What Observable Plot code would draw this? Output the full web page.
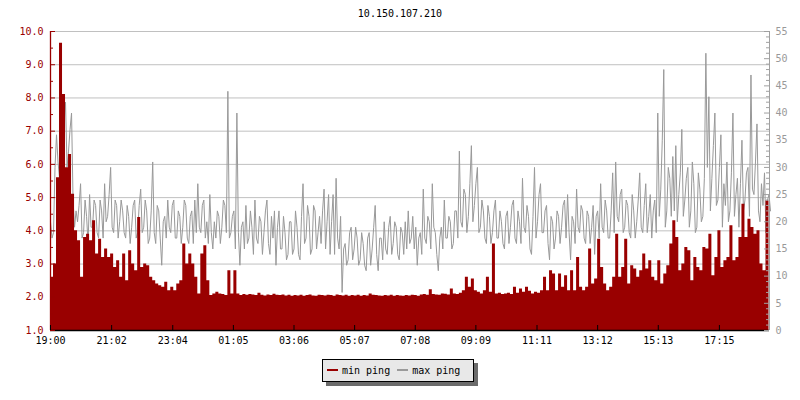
<!DOCTYPE html>
<html><head><meta charset="utf-8">
<script src="https://cdn.jsdelivr.net/npm/d3@7"></script>
<script src="https://cdn.jsdelivr.net/npm/@observablehq/plot@0.6"></script>
<style>
body{margin:0;background:#fff;}
#wrap{position:relative;width:800px;height:400px;font-family:"DejaVu Sans Mono",monospace;font-size:10px;overflow:hidden;}
#title{position:absolute;left:0;top:8px;width:800px;text-align:center;color:#000;line-height:12px;}
#chart{position:absolute;left:0;top:0;}
#legend{position:absolute;left:322px;top:359px;width:152px;height:23px;box-sizing:border-box;background:#e8e8e8;border:1px solid #000;box-shadow:4px 4px 0 #6b6b6b;color:#000;line-height:21px;white-space:nowrap;padding-left:4px;}
.sw{display:inline-block;width:11px;height:2px;vertical-align:middle;margin-right:4px;position:relative;top:-1px;}
</style></head>
<body><div id="wrap">
<div id="chart"></div>
<div id="title">10.150.107.210</div>
<div id="legend"><span class="sw" style="background:#990000"></span>min ping <span class="sw" style="background:#9a9a9a;margin-left:1px"></span>max ping</div>
</div>
<script>
// x-axis tick labels (clock time, starting 19:00)
const xTickLabels = ["19:00","21:02","23:04","01:05","03:06","05:07","07:08","09:09","11:11","13:12","15:13","17:15"];
// sample intervals in minutes
const minStep = 6;
const maxStep = 3;
// min ping (ms, left axis), one value per 6 minutes
const minPing = [
2.6,3.0,5.6,9.65,8.1,5.9,6.3,5.1,4.0,3.7,
2.6,3.8,3.9,3.7,4.3,3.3,3.75,3.2,3.45,3.2,
3.3,2.9,3.1,2.6,3.3,2.5,3.4,3.0,2.8,4.4,
2.9,3.0,2.95,2.6,2.5,2.4,2.35,2.3,2.45,2.2,
2.3,2.2,2.4,2.5,3.6,3.0,3.3,3.0,2.6,2.1,
3.3,3.55,2.5,2.05,2.1,2.15,2.1,2.08,2.05,2.8,
2.1,2.8,2.1,2.05,2.08,2.06,2.08,2.07,2.05,2.12,
2.06,2.04,2.07,2.05,2.09,2.06,2.05,2.07,2.04,2.06,
2.03,2.05,2.04,2.06,2.03,2.05,2.07,2.04,2.03,2.06,
2.05,2.04,2.06,2.05,2.03,2.07,2.05,2.04,2.06,2.03,
2.05,2.04,2.06,2.03,2.05,2.04,2.1,2.06,2.05,2.04,
2.03,2.05,2.04,2.06,2.03,2.05,2.04,2.03,2.05,2.04,
2.06,2.05,2.03,2.07,2.08,2.06,2.23,2.08,2.07,2.06,
2.1,2.09,2.07,2.25,2.1,2.08,2.12,2.2,2.6,2.3,
2.55,2.2,2.15,2.1,2.2,2.6,2.15,3.6,2.1,2.12,
2.08,2.1,2.12,2.08,2.3,2.12,2.25,2.15,2.3,2.18,
2.1,2.15,2.12,2.2,2.6,2.2,2.8,2.7,2.2,2.7,
2.3,2.65,2.2,2.8,2.2,3.2,2.3,2.2,2.3,3.45,
2.4,2.55,3.75,2.9,2.4,2.2,2.3,2.6,3.9,2.6,
2.9,3.75,2.4,2.95,2.85,2.6,2.8,3.3,2.85,3.1,
2.6,2.5,3.1,2.4,2.7,2.95,3.6,4.3,3.8,2.8,
3.0,3.5,3.4,2.5,3.2,2.9,2.8,3.5,3.45,3.9,
2.65,3.2,4.0,2.9,3.1,3.2,4.15,3.1,3.2,3.8,
4.8,3.8,4.35,4.1,3.9,4.0,3.0,2.8,4.9,4.2
];
// max ping (ms, right axis), one value per 3 minutes
const maxPing = [
20,17,18,30,36,31,28,34,25,38,42,30,33,37,40,24,19,22,20,23,
27,17,18,24,21,16,25,19,19,24,23,18,17,24,22,17,27,20,21,25,
30,19,18,24,23,17,20,24,22,18,17,23,21,16,19,23,24,17,18,23,
26,18,19,24,22,16,17,22,31,18,16,23,22,17,12,20,21,17,24,19,
18,23,24,17,17,22,21,16,19,24,23,17,16,21,22,16,24,18,27,19,
18,23,24,17,20,16,25,18,15,20,17,22,21,16,19,24,23,18,44,17,
18,21,22,15,40,18,12,19,20,15,23,16,17,22,19,14,24,17,16,21,
20,14,18,22,24,16,14,21,17,22,12,19,22,15,15,21,18,13,14,20,
20,14,15,22,19,14,13,21,27,16,17,23,21,14,15,23,22,15,18,21,
16,22,26,15,20,25,14,20,25,14,28,17,15,21,7,15,16,12,13,18,
19,13,15,19,17,12,13,18,16,12,11,17,18,12,15,19,23,14,11,17,
17,13,20,15,14,19,21,14,16,20,19,14,13,19,18,14,20,15,22,16,
17,21,15,19,12,17,18,14,26,17,16,21,20,15,27,19,18,14,11,17,
19,15,24,17,17,21,20,15,16,22,22,17,33,20,19,26,25,18,21,27,
34,20,23,27,30,18,19,24,22,17,16,23,21,16,18,22,24,17,17,22,
20,16,15,21,22,16,19,23,24,17,16,22,20,16,28,19,18,23,21,15,
14,21,30,17,20,25,27,18,18,22,23,16,13,21,20,15,17,22,21,16,
19,23,24,17,25,18,13,21,20,16,26,19,18,23,22,17,16,22,21,16,
19,23,14,21,22,17,27,19,18,24,22,17,17,22,29,18,31,21,20,25,
26,18,19,24,23,18,17,25,22,17,20,24,29,19,18,23,27,18,21,25,
17,22,24,18,40,21,26,35,48,19,22,30,28,21,32,22,34,20,25,29,
37,21,24,28,30,19,22,31,27,18,19,29,26,20,21,28,51,30,43,22,
28,34,40,23,24,30,36,19,27,23,31,20,22,29,40,21,25,28,19,27,
35,22,24,29,30,21,47,26,25,31,38,22,20,27,23,29,18,24,25,22
];
// axis tick values
const leftLabels = [1,2,3,4,5,6,7,8,9,10];
const rightLabels = [0,5,10,15,20,25,30,35,40,45,50,55];

const yMin = 1, yMax = 10, rMax = 55;
const toLeft = v => yMin + v * (yMax - yMin) / rMax;
const xMax = 1435;
const mLeft = 50, mRight = 31, mTop = 31, mBottom = 20, W = 800, H = 350;
const dataPerPxX = xMax / (W - mLeft - mRight);
const dataPerPxY = (yMax - yMin) / (H - mTop - mBottom);
const tickMinute = s => { const [h, m] = s.split(":").map(Number); return ((h * 60 + m) - 19 * 60 + 1440) % 1440; };
const xTicks = xTickLabels.map(s => ({t: tickMinute(s), label: s}));
const minSeries = minPing.map((v, i) => ({t: i * minStep, v}));
const maxSeries = maxPing.map((v, i) => ({t: i * maxStep, v}));
const leftMinor = d3.range(1, 10.01, 0.5);
const rightMinor = d3.range(0, 55.01, 1);

const chart = Plot.plot({
  width: W, height: H,
  marginLeft: mLeft, marginRight: mRight, marginTop: mTop, marginBottom: mBottom,
  style: {fontFamily: "'DejaVu Sans Mono', monospace", fontSize: "10px", background: "transparent"},
  x: {domain: [0, xMax], axis: null},
  y: {domain: [yMin, yMax], axis: null},
  marks: [
    Plot.ruleY(d3.range(2, 11), {stroke: "#c0c0c0", strokeWidth: 1}),
    Plot.lineY(maxSeries, {x: "t", y: d => toLeft(d.v), curve: "linear", stroke: "#999999", strokeWidth: 1}),
    Plot.areaY(minSeries, {x: "t", y1: yMin, y2: "v", curve: "step-after", fill: "#990000"}),
    // axis lines
    Plot.ruleX([0], {stroke: "#990000", strokeWidth: 1.3}),
    Plot.ruleX([xMax], {stroke: "#a0a0a0", strokeWidth: 1}),
    Plot.ruleY([yMin], {stroke: "#000", strokeWidth: 1.3}),
    // inward ticks
    Plot.ruleY(leftMinor, {y: d => d, x1: 0, x2: d => (Number.isInteger(d) ? 5 : 3) * dataPerPxX, stroke: "#990000"}),
    Plot.ruleY(rightMinor, {y: d => toLeft(d), x1: d => xMax - (d % 5 === 0 ? 5 : 3) * dataPerPxX, x2: xMax, stroke: "#a0a0a0"}),
    Plot.ruleX(xTicks, {x: "t", y1: yMin, y2: yMin + 5 * dataPerPxY, stroke: "#000"}),
    // tick labels
    Plot.axisY(leftLabels, {anchor: "left", tickSize: 0, tickPadding: 7, tickFormat: d => d.toFixed(1), color: "#990000", label: null}),
    Plot.axisY(rightLabels.map(toLeft), {anchor: "right", tickSize: 0, tickPadding: 6, tickFormat: d => String(Math.round((d - yMin) * rMax / (yMax - yMin))), color: "#999999", label: null}),
    Plot.axisX(xTicks.map(d => d.t), {anchor: "bottom", tickSize: 0, tickPadding: 6, tickFormat: d => xTicks.find(e => e.t === d).label, color: "#000", label: null})
  ]
});
document.getElementById("chart").appendChild(chart);
</script>
</body></html>
